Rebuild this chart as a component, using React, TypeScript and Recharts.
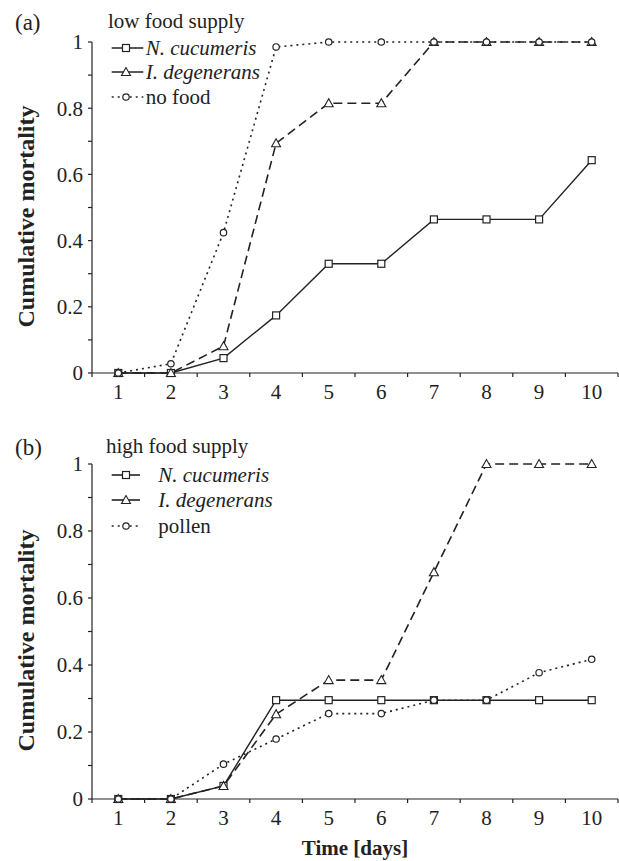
/**
 * Two-panel cumulative mortality chart (low vs high food supply).
 */

import React from 'react';
import { LineChart, Line, XAxis, YAxis, Legend } from 'recharts';

// ============================================================================
// DATA
// ============================================================================

const DAYS = [1, 2, 3, 4, 5, 6, 7, 8, 9, 10];
const X_BOUNDS = [0.5, 1.5, 2.5, 3.5, 4.5, 5.5, 6.5, 7.5, 8.5, 9.5, 10.5];
const Y_TICKS = [0, 0.1, 0.2, 0.3, 0.4, 0.5, 0.6, 0.7, 0.8, 0.9, 1];

// (a) low food supply
const LOW_CUCUMERIS = [0, 0, 0.045, 0.174, 0.33, 0.33, 0.464, 0.464, 0.464, 0.643];
const LOW_DEGENERANS = [0, 0, 0.081, 0.694, 0.815, 0.815, 1, 1, 1, 1];
const LOW_NO_FOOD = [0, 0.028, 0.424, 0.985, 1, 1, 1, 1, 1, 1];

// (b) high food supply
const HIGH_CUCUMERIS = [0, 0, 0.039, 0.295, 0.295, 0.295, 0.295, 0.295, 0.295, 0.295];
const HIGH_DEGENERANS = [0, 0, 0.039, 0.253, 0.355, 0.355, 0.677, 1, 1, 1];
const HIGH_POLLEN = [0, 0, 0.104, 0.179, 0.255, 0.255, 0.295, 0.295, 0.377, 0.417];

// ============================================================================
// CONSTANTS
// ============================================================================

const FONT = '"Liberation Serif", serif';
const INK = '#222';
const CHART_W = 619;
const Y_AXIS_W = 92;
const MARGIN_RIGHT = 1;
const BAND = (CHART_W - Y_AXIS_W - MARGIN_RIGHT) / DAYS.length;

const DASH = '9 5';
const DOTS = '2 4';

const buildRows = (a: number[], b: number[], c: number[]) =>
  DAYS.map((day, i) => ({ day, nc: a[i], id: b[i], third: c[i] }));

// ============================================================================
// MARKERS
// ============================================================================

const Square = ({ cx, cy }: any) =>
  cx == null ? null : (
    <rect x={cx - 3.5} y={cy - 3.5} width={7} height={7} fill="#fff" stroke={INK} strokeWidth={1.2} />
  );

const Triangle = ({ cx, cy }: any) =>
  cx == null ? null : (
    <polygon
      points={`${cx},${cy - 4.5} ${cx - 4.5},${cy + 3.5} ${cx + 4.5},${cy + 3.5}`}
      fill="#fff"
      stroke={INK}
      strokeWidth={1.1}
    />
  );

const Ring = ({ cx, cy }: any) =>
  cx == null ? null : <circle cx={cx} cy={cy} r={3.2} fill="#fff" stroke={INK} strokeWidth={1.2} />;

// ============================================================================
// AXIS PIECES
// ============================================================================

const DayTick = ({ x, y, payload }: any) => {
  if (payload.value >= 10.5) return <g />;
  return (
    <text
      x={x + BAND / 2}
      y={y + 20}
      textAnchor="middle"
      fontFamily={FONT}
      fontSize={21}
      fill={INK}
    >
      {payload.value + 0.5}
    </text>
  );
};

const yTitle = (props: any) => {
  const { x, y, height } = props.viewBox;
  const cx = x + 26;
  const cy = y + height / 2 + 9;
  return (
    <text
      x={cx}
      y={cy}
      transform={`rotate(-90, ${cx}, ${cy})`}
      textAnchor="middle"
      dominantBaseline="central"
      fontFamily={FONT}
      fontWeight="bold"
      fontSize={24}
      fill={INK}
    >
      Cumulative mortality
    </text>
  );
};

const timeTitle = (props: any) => {
  const { x, y, width } = props.viewBox;
  return (
    <text
      x={x + width / 2}
      y={y + 49}
      textAnchor="middle"
      dominantBaseline="central"
      fontFamily={FONT}
      fontWeight="bold"
      fontSize={21}
      fill={INK}
    >
      Time [days]
    </text>
  );
};

// ============================================================================
// LEGEND (panel letter, caption and series keys)
// ============================================================================

interface KeyProps {
  letter: string;
  caption: string;
  captionX: number;
  names: string[];
  rowsY: number[];
  lineEnd: number;
  textX: number;
}

const PanelKey = ({ letter, caption, captionX, names, rowsY, lineEnd, textX }: KeyProps) => {
  const markers = [Square, Triangle, Ring];
  const dashes = [undefined, undefined, DOTS];
  const mx = 126;
  return (
    <svg width={320} height={120} style={{ display: 'block' }}>
      <text x={15} y={22} dominantBaseline="central" fontFamily={FONT} fontSize={23} fill={INK}>
        {letter}
      </text>
      <text x={captionX} y={21} dominantBaseline="central" fontFamily={FONT} fontSize={21} fill={INK}>
        {caption}
      </text>
      {names.map((name, i) => {
        const M = markers[i];
        const y = rowsY[i];
        return (
          <g key={name}>
            <line
              x1={111.7}
              x2={lineEnd}
              y1={y}
              y2={y}
              stroke={INK}
              strokeWidth={1.6}
              strokeDasharray={dashes[i]}
            />
            <M cx={mx} cy={y} />
            <text
              x={textX}
              y={y}
              dominantBaseline="central"
              fontFamily={FONT}
              fontStyle={i < 2 ? 'italic' : 'normal'}
              fontSize={21}
              fill={INK}
            >
              {name}
            </text>
          </g>
        );
      })}
    </svg>
  );
};

// ============================================================================
// PANEL
// ============================================================================

interface PanelProps {
  rows: any[];
  height: number;
  margin: { top: number; right: number; left: number; bottom: number };
  xAxisHeight: number;
  showTime: boolean;
  keyProps: KeyProps;
}

const Panel: React.FC<PanelProps> = ({ rows, height, margin, xAxisHeight, showTime, keyProps }) => (
  <LineChart width={CHART_W} height={height} data={rows} margin={margin}>
    <XAxis
      dataKey="day"
      type="number"
      domain={[0.5, 10.5]}
      ticks={X_BOUNDS}
      interval={0}
      tick={<DayTick />}
      tickSize={4}
      height={xAxisHeight}
      stroke={INK}
      axisLine={{ stroke: INK, strokeWidth: 1.2 }}
      tickLine={{ stroke: INK, strokeWidth: 1.2 }}
      label={showTime ? timeTitle : undefined}
    />
    <YAxis
      type="number"
      domain={[0, 1]}
      ticks={Y_TICKS}
      interval={0}
      width={Y_AXIS_W}
      tickSize={4}
      tickMargin={5}
      tickFormatter={(v: number) => (Math.round(v * 10) % 2 === 0 ? String(v) : '')}
      tick={{ fill: INK, fontSize: 21, fontFamily: FONT }}
      axisLine={{ stroke: INK, strokeWidth: 1.2 }}
      tickLine={{ stroke: INK, strokeWidth: 1.2 }}
      label={yTitle}
    />
    <Legend
      layout="vertical"
      align="center"
      verticalAlign="middle"
      wrapperStyle={{ top: 0, left: 0, width: 320 }}
      content={() => <PanelKey {...keyProps} />}
    />
    <Line
      dataKey="nc"
      stroke={INK}
      strokeWidth={1.4}
      dot={(p: any) => <Square key={`s${p.index}`} {...p} />}
      isAnimationActive={false}
    />
    <Line
      dataKey="id"
      stroke={INK}
      strokeWidth={1.6}
      strokeDasharray={DASH}
      dot={(p: any) => <Triangle key={`t${p.index}`} {...p} />}
      isAnimationActive={false}
    />
    <Line
      dataKey="third"
      stroke={INK}
      strokeWidth={1.6}
      strokeDasharray={DOTS}
      dot={(p: any) => <Ring key={`c${p.index}`} {...p} />}
      isAnimationActive={false}
    />
  </LineChart>
);

// ============================================================================
// APP
// ============================================================================

export default function App() {
  return (
    <div
      style={{
        position: 'absolute',
        left: 0,
        top: 0,
        width: 619,
        height: 861,
        background: '#fff',
        fontFamily: FONT,
      }}
    >
      <Panel
        rows={buildRows(LOW_CUCUMERIS, LOW_DEGENERANS, LOW_NO_FOOD)}
        height={425}
        margin={{ top: 42, right: MARGIN_RIGHT, left: 0, bottom: 12 }}
        xAxisHeight={40}
        showTime={false}
        keyProps={{
          letter: '(a)',
          caption: 'low food supply',
          captionX: 108,
          names: ['N. cucumeris', 'I. degenerans', 'no food'],
          rowsY: [48, 72, 97],
          lineEnd: 143.3,
          textX: 145.7,
        }}
      />
      <Panel
        rows={buildRows(HIGH_CUCUMERIS, HIGH_DEGENERANS, HIGH_POLLEN)}
        height={436}
        margin={{ top: 39, right: MARGIN_RIGHT, left: 0, bottom: 0 }}
        xAxisHeight={62}
        showTime={true}
        keyProps={{
          letter: '(b)',
          caption: 'high food supply',
          captionX: 106,
          names: ['N. cucumeris', 'I. degenerans', 'pollen'],
          rowsY: [50, 75, 101],
          lineEnd: 140,
          textX: 158.3,
        }}
      />
    </div>
  );
}
